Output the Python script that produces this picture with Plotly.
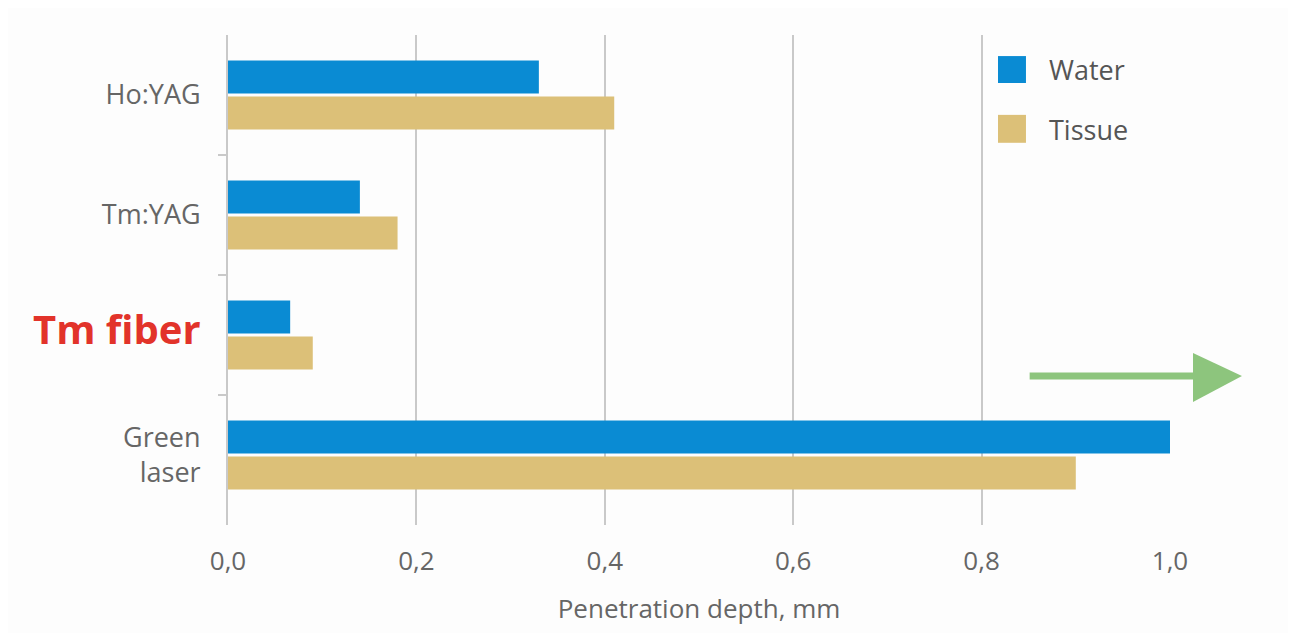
import plotly.graph_objects as go

# categories top -> bottom
lasers = ["Ho:YAG", "Tm:YAG", "Tm fiber", "Green laser"]
labels = ["Ho:YAG", "Tm:YAG",
          "<span style='color:#e2332a;font-size:40px'><b>Tm fiber</b></span>",
          "Green<br>laser"]
water = [0.33, 0.14, 0.066, 1.0]
tissue = [0.41, 0.18, 0.09, 0.90]

xticks = [0.0, 0.2, 0.4, 0.6, 0.8, 1.0]
xtick_text = ["0,0", "0,2", "0,4", "0,6", "0,8", "1,0"]

blue = "#0a8bd3"
tan = "#dcc078"
grid = "#c9c9c9"
txt = "#666666"

ypos = list(range(len(lasers)))

fig = go.Figure()
fig.add_trace(go.Bar(y=ypos, x=water, orientation="h", name="Water",
                     marker=dict(color=blue, line_width=0)))
fig.add_trace(go.Bar(y=ypos, x=tissue, orientation="h", name="Tissue",
                     marker=dict(color=tan, line_width=0)))

# page body has an 8px margin, so the figure is a bit smaller and shifted
fig.update_layout(
    width=1280, height=625,
    margin=dict(l=220, r=118, t=27, b=108),
    paper_bgcolor="#fdfdfd", plot_bgcolor="#fdfdfd",
    barmode="group", bargap=0.40, bargroupgap=0.08,
    showlegend=False,
    font=dict(family="Open Sans", color=txt, size=26),
)

fig.update_xaxes(
    range=[0, 1.0], tickvals=xticks, ticktext=xtick_text,
    showgrid=True, gridcolor=grid, gridwidth=2,
    zeroline=False, showline=False, ticks="",
    ticklabelstandoff=18, automargin=False,
    tickfont=dict(size=26, color=txt),
    title=dict(text="Penetration depth, mm", font=dict(size=26, color=txt), standoff=22),
)
fig.update_yaxes(
    range=[3.583, -0.5], tickvals=ypos, ticktext=labels,
    showgrid=False, zeroline=False,
    showline=True, linecolor=grid, linewidth=2,
    ticks="", ticklabelstandoff=20, automargin=False,
    tickfont=dict(size=27, color=txt),
    minor=dict(tickmode="array", tickvals=[0.5, 1.5, 2.5],
               ticks="outside", ticklen=8, tickwidth=2, tickcolor=grid),
)

# legend drawn by hand (large square swatches)
for name, col, y0, y1, yt in [("Water", blue, 0.902, 0.957, 0.930),
                              ("Tissue", tan, 0.780, 0.837, 0.808)]:
    fig.add_shape(type="rect", xref="paper", yref="paper",
                  x0=0.8174, x1=0.8471, y0=y0, y1=y1,
                  fillcolor=col, line_width=0)
    fig.add_annotation(xref="paper", yref="paper", x=0.8694, y=yt,
                       text=name, showarrow=False,
                       xanchor="left", yanchor="middle",
                       font=dict(size=27, color="#555555"))

# green arrow: water penetration of green laser goes off the scale
arrow = "#8dc57d"
fig.add_shape(type="line", xref="paper", yref="paper",
              x0=0.851, x1=1.03, y0=0.304, y1=0.304,
              line=dict(color=arrow, width=7))
fig.add_shape(type="path", xref="paper", yref="paper",
              path="M 1.0244,0.351 L 1.0764,0.304 L 1.0244,0.251 Z",
              fillcolor=arrow, line_width=0)

fig.write_html("out.html")
